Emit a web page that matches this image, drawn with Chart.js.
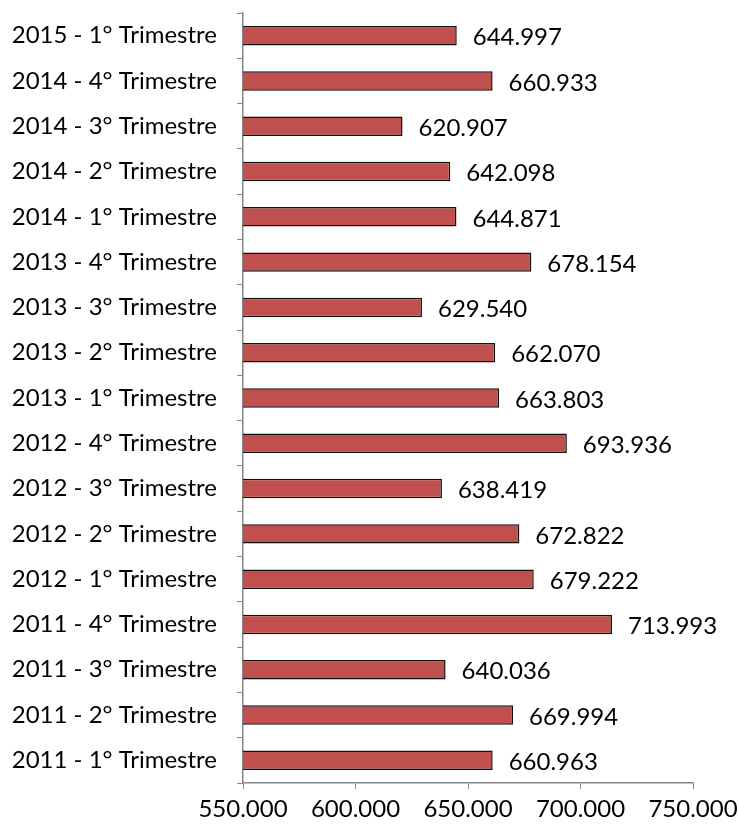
<!DOCTYPE html>
<html>
<head>
<meta charset="utf-8">
<script src="https://cdn.jsdelivr.net/npm/chart.js@4/dist/chart.umd.min.js"></script>
<style>
  body { margin: 0; background: #fff; }
  canvas { display: block; }
</style>
</head>
<body>
<canvas id="chart" width="738" height="829"></canvas>
<script>
// categories, oldest first (drawn bottom to top)
const quarters = [
    '2011 - 1° Trimestre', '2011 - 2° Trimestre', '2011 - 3° Trimestre', '2011 - 4° Trimestre',
    '2012 - 1° Trimestre', '2012 - 2° Trimestre', '2012 - 3° Trimestre', '2012 - 4° Trimestre',
    '2013 - 1° Trimestre', '2013 - 2° Trimestre', '2013 - 3° Trimestre', '2013 - 4° Trimestre',
    '2014 - 1° Trimestre', '2014 - 2° Trimestre', '2014 - 3° Trimestre', '2014 - 4° Trimestre',
    '2015 - 1° Trimestre'
];
const values = [
    660963, 669994, 640036, 713993,
    679222, 672822, 638419, 693936,
    663803, 662070, 629540, 678154,
    644871, 642098, 620907, 660933,
    644997
];
const axisMin = 550000;
const axisMax = 750000;
const axisStep = 50000;

const FONT = 'Lato, "Open Sans", sans-serif';

function fmt(n) {
    return String(Math.round(n)).replace(/\B(?=(\d{3})+(?!\d))/g, '.');
}

const valueLabels = {
    id: 'valueLabels',
    afterDatasetsDraw(chart) {
        const ctx = chart.ctx;
        const meta = chart.getDatasetMeta(0);
        ctx.save();
        ctx.font = '24px ' + FONT;
        ctx.fillStyle = '#000';
        ctx.textAlign = 'left';
        ctx.textBaseline = 'middle';
        meta.data.forEach((bar, i) => {
            ctx.fillText(fmt(values[i]), bar.x + 16, bar.y + 2);
        });
        ctx.restore();
    }
};

new Chart(document.getElementById('chart'), {
    type: 'bar',
    data: {
        labels: quarters,
        datasets: [{
            data: values,
            backgroundColor: '#C0504D',
            borderColor: '#111',
            borderWidth: 1.5,
            borderSkipped: false,
            barPercentage: 0.43,
            categoryPercentage: 1
        }]
    },
    options: {
        indexAxis: 'y',
        responsive: false,
        animation: false,
        layout: { padding: { top: 13, right: 45, left: 0, bottom: 0 } },
        plugins: {
            legend: { display: false },
            tooltip: { enabled: false }
        },
        scales: {
            y: {
                reverse: true,
                grid: { drawOnChartArea: false, drawTicks: true, tickLength: 6, color: '#868686', offset: true },
                border: { color: '#868686', width: 1.5 },
                ticks: { color: '#000', padding: 20, font: { family: FONT, size: 24 } },
                afterFit(scale) {
                    scale.width = 243;
                    scale.paddingTop = 0;
                    scale.paddingBottom = 0;
                }
            },
            x: {
                min: axisMin,
                max: axisMax,
                grid: { drawOnChartArea: false, drawTicks: true, tickLength: 6, color: '#868686' },
                border: { color: '#868686', width: 1.5 },
                ticks: {
                    stepSize: axisStep,
                    color: '#000',
                    padding: 6,
                    maxRotation: 0,
                    font: { family: FONT, size: 24 },
                    callback: v => fmt(v)
                },
                afterFit(scale) {
                    scale.height = 46;
                    scale.paddingLeft = 0;
                    scale.paddingRight = 0;
                }
            }
        }
    },
    plugins: [valueLabels]
});
</script>
</body>
</html>
